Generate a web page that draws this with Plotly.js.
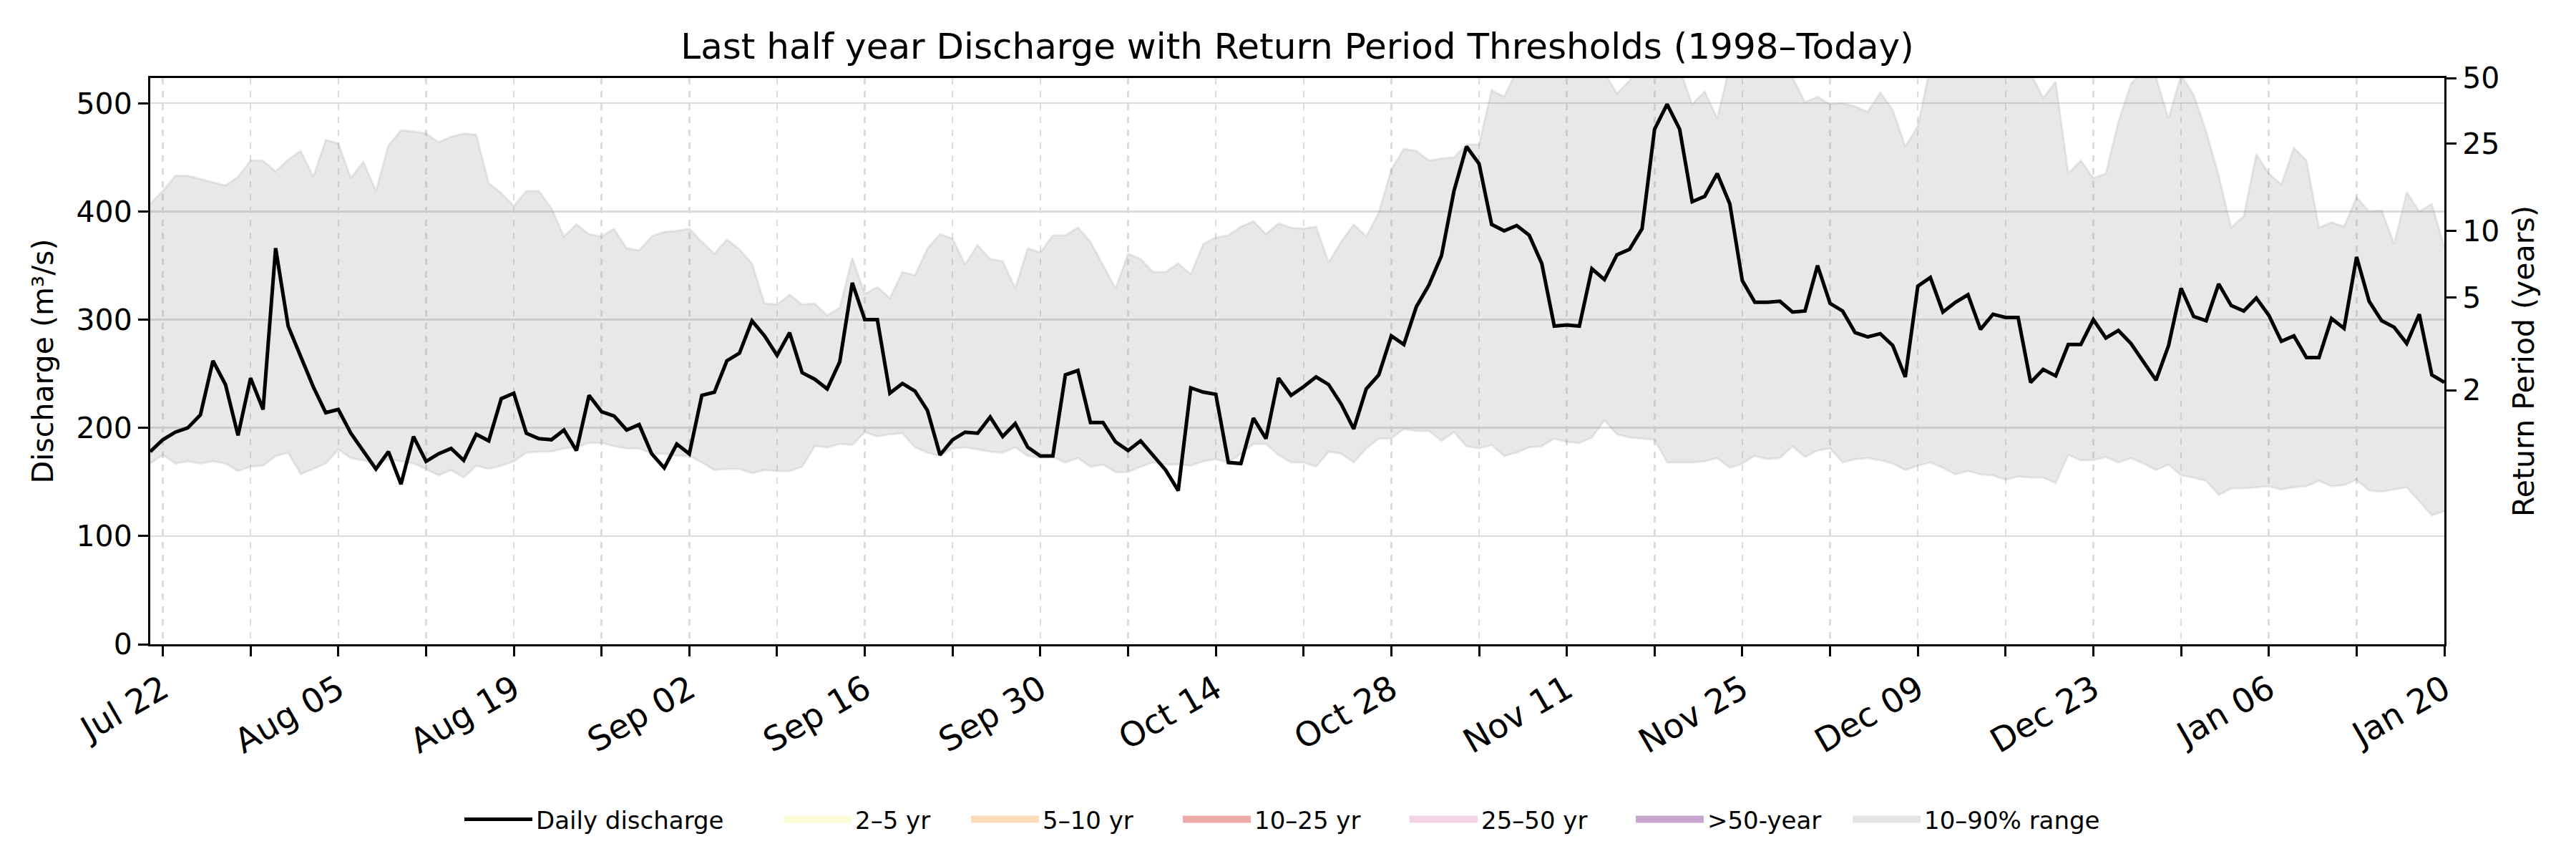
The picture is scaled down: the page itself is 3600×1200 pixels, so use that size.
<!DOCTYPE html>
<html>
<head>
<meta charset="utf-8">
<script src="https://cdn.plot.ly/plotly-3.0.1.min.js"></script>
<style>
  body { margin: 0; background: #fff; }
  #chart { width: 3600px; height: 1200px; }
</style>
</head>
<body>
<div id="chart"></div>
<script>
// daily values, 2024-07-21 .. 2025-01-20
var startDate = '2024-07-21';

var discharge = [
  178,189,196,200,212,262,240,193,246,217,366,294,266,238,
  214,217,195,178,162,178,148,192,169,176,181,170,194,188,
  227,232,195,190,189,198,179,230,215,211,198,203,176,163,
  185,176,230,233,262,269,299,285,267,288,251,245,236,261,
  334,300,300,232,241,234,216,175,189,196,195,210,192,204,
  182,174,174,249,253,205,205,187,179,188,174,161,142,237,
  233,231,168,167,209,190,246,230,238,247,240,222,199,236,
  249,285,277,312,332,359,419,460,444,388,382,387,378,352,
  294,295,294,347,337,360,365,384,476,499,476,409,414,435,
  407,336,316,316,317,307,308,350,315,308,288,284,287,276,
  247,331,339,307,316,323,291,305,302,302,242,254,248,277,
  277,300,283,290,278,261,244,276,329,303,299,333,313,308,
  320,304,280,285,265,265,301,292,358,317,299,293,278,305,
  249,242
];

var q90 = [
  407,419,433,433,430,427,424,432,447,447,437,448,456,432,
  466,463,431,446,419,461,475,474,472,464,469,472,471,426,
  417,405,419,419,403,377,388,379,377,384,366,364,377,381,
  382,384,372,361,374,365,352,315,314,323,314,315,304,311,
  357,324,330,320,344,341,366,379,375,351,369,356,354,329,
  366,362,378,378,385,372,350,329,361,356,344,344,352,342,
  370,376,378,386,391,379,389,385,384,386,353,372,388,377,
  399,439,458,456,447,449,450,462,462,512,506,530,545,550,
  548,540,535,538,528,509,521,540,552,548,532,499,511,486,
  535,545,550,545,535,524,501,506,499,500,497,492,510,494,
  460,479,535,545,555,560,555,545,540,530,528,505,520,435,
  447,431,435,483,518,530,524,486,526,508,474,433,385,396,
  453,435,425,459,447,385,390,386,413,400,401,370,418,400,
  407,367
];

var q10 = [
  167,175,167,169,167,169,167,160,164,165,174,177,157,162,
  167,180,172,170,167,171,169,167,162,156,161,154,165,162,
  165,169,177,178,178,181,182,186,186,183,181,181,176,176,
  174,174,168,161,162,162,158,161,160,160,164,183,182,185,
  184,196,192,194,195,182,177,174,181,182,180,178,177,182,
  174,172,173,168,172,164,166,159,159,164,168,166,166,165,
  169,171,168,176,185,185,175,168,168,164,178,176,168,181,
  190,190,199,197,197,188,196,183,181,184,174,177,182,183,
  190,187,186,191,207,194,191,190,189,168,168,168,169,172,
  163,167,174,171,172,183,173,179,181,168,171,172,170,167,
  161,165,168,163,157,160,157,156,152,155,154,154,149,175,
  170,170,173,168,172,167,161,166,156,154,151,138,144,144,
  145,146,143,145,146,151,146,147,152,142,141,143,145,132,
  119,123
];

// return period thresholds (discharge) and their labels
var rpValues = [234.8, 320.3, 382.0, 462.6, 523.3];
var rpLabels = ['2', '5', '10', '25', '50'];

var bandNames = ['2–5 yr', '5–10 yr', '10–25 yr', '25–50 yr', '>50-year'];
var bandFill = ['#fcfcd8', '#fddcbc', '#eea9a9', '#f3d4e4', '#c9a6d0'];

var dates = [];
var t0 = new Date(startDate + 'T00:00:00Z');
for (var i = 0; i < discharge.length; i++) {
  var d = new Date(t0.getTime() + i * 86400000);
  dates.push(d.toISOString().slice(0, 10));
}

var font = 'DejaVu Sans, sans-serif';
var traces = [];

// 10-90% band
traces.push({
  x: dates, y: q10, type: 'scatter', mode: 'lines',
  line: {color: 'rgba(150,150,150,0.18)', width: 3},
  showlegend: false, hoverinfo: 'skip'
});
traces.push({
  x: dates, y: q90, type: 'scatter', mode: 'lines',
  fill: 'tonexty', fillcolor: 'rgba(150,150,150,0.22)',
  line: {color: 'rgba(150,150,150,0.18)', width: 3},
  showlegend: false, hoverinfo: 'skip'
});

traces.push({
  x: dates, y: discharge, type: 'scatter', mode: 'lines',
  line: {color: '#000000', width: 5},
  name: 'Daily discharge', legend: 'legend'
});

// legend entries for the return period bands (no marks inside the plot)
for (var k = 0; k < bandNames.length; k++) {
  traces.push({
    x: [null], y: [null], type: 'scatter', mode: 'lines',
    line: {color: bandFill[k], width: 36},
    name: bandNames[k], yaxis: 'y2', legend: 'legend' + (k + 2)
  });
}
traces.push({
  x: [null], y: [null], type: 'scatter', mode: 'lines',
  line: {color: '#e4e4e4', width: 36},
  name: '10–90% range', yaxis: 'y2', legend: 'legend7'
});

var week = 7 * 86400000;
var plotL = 210, plotW = 3206, plotB = 900, plotH = 791;
var legendStarts = [654, 1100, 1362, 1658, 1975, 2291, 2594];

var layout = {
  width: 3600, height: 1200,
  paper_bgcolor: '#ffffff', plot_bgcolor: '#ffffff',
  margin: {l: 210, r: 184, t: 109, b: 300},
  font: {family: font, size: 41, color: '#000'},
  title: {
    text: 'Last half year Discharge with Return Period Thresholds (1998–Today)',
    font: {family: font, size: 50, color: '#000'},
    x: 0.5, xref: 'paper', y: 1 - 64 / 1200, yref: 'container', yanchor: 'middle'
  },
  xaxis: {
    type: 'date',
    range: [dates[0], dates[dates.length - 1]],
    tick0: '2024-07-22', dtick: 2 * week, tickformat: '%b %d',
    tickangle: -30,
    ticks: 'outside', ticklen: 14, tickwidth: 3, tickcolor: '#000',
    showline: true, linecolor: '#000', linewidth: 3, mirror: true,
    showgrid: true, gridcolor: '#dcdcdc', gridwidth: 2.5, griddash: 'dash',
    minor: {
      tick0: '2024-07-22', dtick: week,
      ticks: 'outside', ticklen: 14, tickwidth: 3, tickcolor: '#000',
      showgrid: true, gridcolor: '#dcdcdc', gridwidth: 2.5, griddash: 'dash'
    },
    tickfont: {family: font, size: 47},
    zeroline: false
  },
  yaxis: {
    range: [0, rpValues[rpValues.length - 1]],
    tick0: 0, dtick: 100,
    ticks: 'outside', ticklen: 14, tickwidth: 3, tickcolor: '#000',
    showline: true, linecolor: '#000', linewidth: 3, mirror: true,
    showgrid: true, gridcolor: '#dcdcdc', gridwidth: 2.5,
    zeroline: false,
    title: {text: 'Discharge (m³/s)', font: {family: font, size: 41}, standoff: 20},
    tickfont: {family: font, size: 41}
  },
  yaxis2: {
    overlaying: 'y', side: 'right', anchor: 'x',
    range: [0, rpValues[rpValues.length - 1]],
    tickmode: 'array', tickvals: rpValues, ticktext: rpLabels,
    ticks: 'outside', ticklen: 14, tickwidth: 3, tickcolor: '#000',
    showline: true, linecolor: '#000', linewidth: 3,
    showgrid: false, zeroline: false,
    title: {text: 'Return Period (years)', font: {family: font, size: 41}, standoff: 20},
    tickfont: {family: font, size: 41}
  },
  showlegend: true
};

for (var j = 0; j < legendStarts.length; j++) {
  layout[j === 0 ? 'legend' : 'legend' + (j + 1)] = {
    orientation: 'h',
    x: (legendStarts[j] - 10 - plotL) / plotW, xanchor: 'left',
    y: (plotB - 1145) / plotH, yanchor: 'middle',
    font: {family: font, size: 34, color: '#000'},
    itemwidth: 95, bgcolor: 'rgba(0,0,0,0)'
  };
}

Plotly.newPlot('chart', traces, layout, {staticPlot: true, displayModeBar: false});
</script>
</body>
</html>
